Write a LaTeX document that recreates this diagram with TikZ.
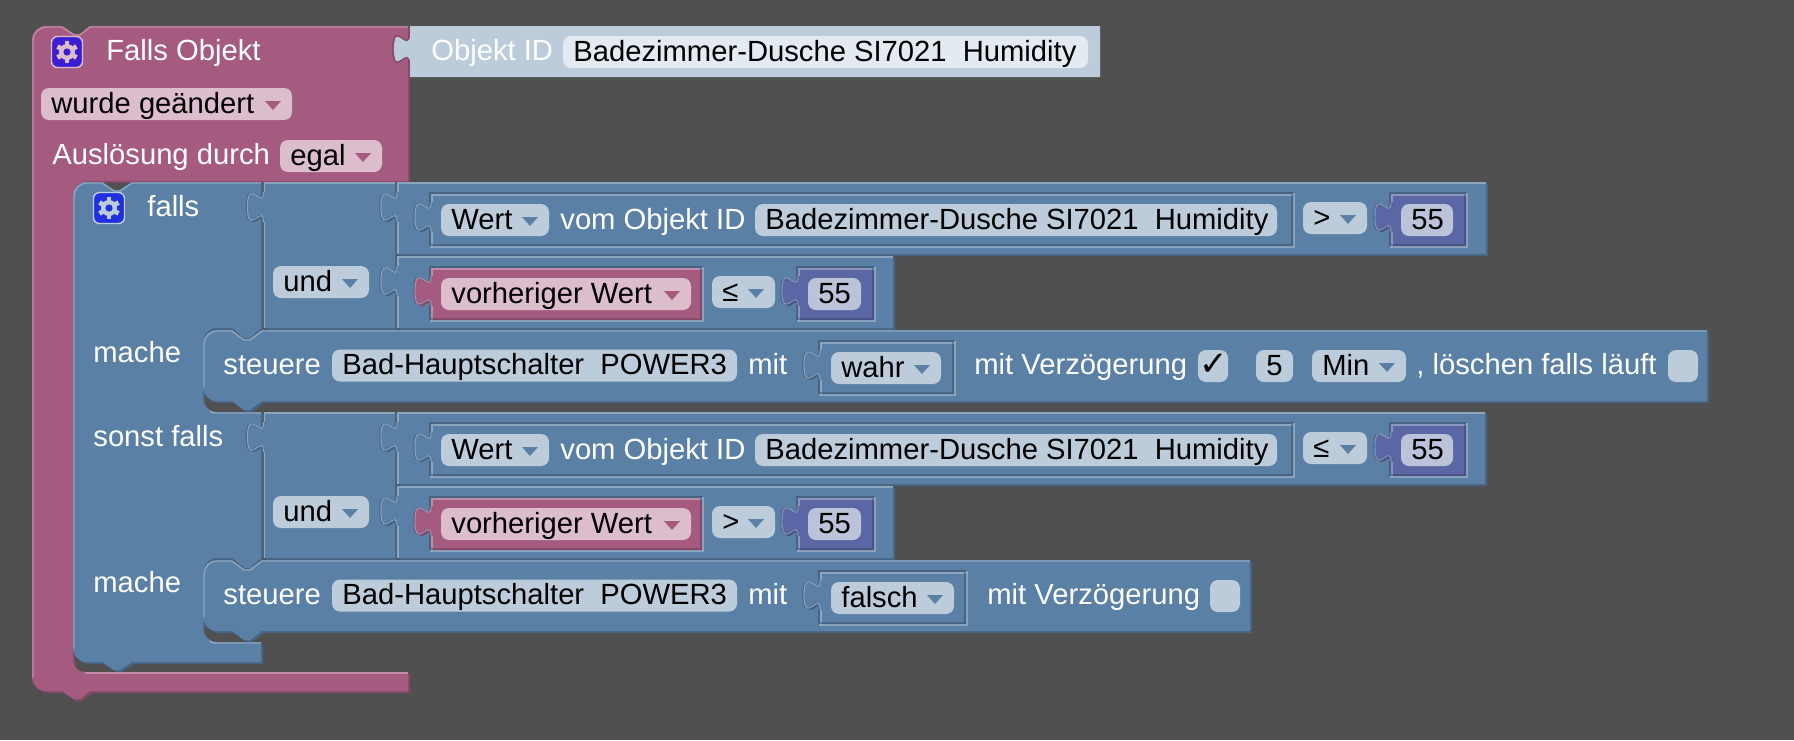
\documentclass[tikz,border=0pt]{standalone}
\usepackage{fontspec}
\setmainfont{Liberation Sans}
\newfontfamily\symfont{DejaVu Sans}

\definecolor{bgdark}{HTML}{505050}
\definecolor{blockblue}{HTML}{5B80A5}
\definecolor{darkblue}{HTML}{476583}
\definecolor{lightblue}{HTML}{8CA6C0}
\definecolor{fieldblue}{HTML}{BDCCDB}
\definecolor{blockmag}{HTML}{A55B80}
\definecolor{darkmag}{HTML}{844966}
\definecolor{lightmag}{HTML}{C08CA6}
\definecolor{fieldmag}{HTML}{DBBDCC}
\definecolor{blocknum}{HTML}{5B67A5}
\definecolor{darknum}{HTML}{495284}
\definecolor{lightnum}{HTML}{8C95C0}
\definecolor{fieldnum}{HTML}{BDC2DB}
\definecolor{fieldid}{HTML}{E4EAF1}
\definecolor{gearmag}{HTML}{3D1FD3}
\definecolor{gearblue}{HTML}{2030E0}

\tikzset{
  edge/.style={line width=0.7pt},
  tabedge/.style={line width=0.45pt},
  lbl/.style={anchor=base west,inner sep=0,text=white,font=\fontsize{14.6}{17}\selectfont},
  fieldtext/.style={anchor=base west,inner sep=0,text=black,font=\fontsize{14.6}{17}\selectfont},
}

% tab of a value block, going down the left side
\newcommand{\tabdown}[2]{.. controls (#1,#2+20) and (#1-16,#2-16) .. (#1-16,#2+15) .. controls (#1-16,#2+46) and (#1,#2+10) .. (#1,#2+30)}
\newcommand{\blk}[3]{\fill[dark#1,xshift=1pt,yshift=-1pt] #3; \fill[#2] #3;}

% field: name, x0, x1, y centre, text
\newcommand{\fld}[6][blue]{
  \fill[field#1,rounded corners=4pt] (#3,#5-16) rectangle (#4,#5+16);
  \node[fieldtext] (#2) at (#3+10,#5+9) {#6};
}
% field with dropdown arrow
\newcommand{\dfld}[6][blue]{
  \fld[#1]{#2}{#3}{#4}{#5}{#6}
  \fill[block#1] (#4-27,#5-3) -- (#4-11,#5-3) -- (#4-19,#5+6) -- cycle;
}
% horizontal row with a socket at its left side
\newcommand{\rowblk}[4]{
  \blk{blue}{blockblue}{(#1,#3) -- (#1,#3+10) \tabdown{#1}{#3+10} -- (#1,#4) -- (#2,#4) -- (#2,#3) -- cycle}
  \draw[darkblue,tabedge,xshift=-0.6pt] (#1,#3+10) \tabdown{#1}{#3+10};
  \draw[lightblue,edge] (#1+1,#4) -- (#1+1,#3+40);
  \draw[lightblue,tabedge] (#1,#3+10) \tabdown{#1}{#3+10};
  \draw[lightblue,edge] (#1+1,#3+10) -- (#1+1,#3+1) -- (#2,#3+1);
}
% value block sitting in its socket
\newcommand{\valfrm}[5][blue]{
  \draw[darkblue,edge] (#2,#5) -- (#2,#4) -- (#3,#4);
  \draw[lightblue,edge] (#2,#5) -- (#3,#5) -- (#3,#4);
  \blk{#1}{block#1}{(#2+1,#4+1) -- (#2+1,#4+9) \tabdown{#2+1}{#4+9} -- (#2+1,#5-3) -- (#3-3,#5-3) -- (#3-3,#4+1) -- cycle}
  \draw[darkblue,tabedge,xshift=-0.6pt] (#2+1,#4+9) \tabdown{#2+1}{#4+9};
  \draw[light#1,tabedge] (#2+1,#4+9) \tabdown{#2+1}{#4+9};
  \draw[light#1,edge] (#2+2,#5-3) -- (#2+2,#4+39);
  \draw[light#1,edge] (#2+2,#4+9) -- (#2+2,#4+2) -- (#3-3,#4+2);
}
% statement block: right end, top
\newcommand{\stmtpath}[2]{(203,#2+14) .. controls (203,#2+6) and (209,#2) .. (217,#2) -- (232,#2) -- (244,#2+9) -- (250,#2+9) -- (262,#2) -- (#1,#2) -- (#1,#2+71) -- (262,#2+71) -- (250,#2+80) -- (244,#2+80) -- (232,#2+71) -- (217,#2+71) .. controls (209,#2+71) and (203,#2+65) .. (203,#2+57) -- cycle}
\newcommand{\stmtblk}[2]{
  \blk{blue}{blockblue}{\stmtpath{#1}{#2}}
  \draw[lightblue,edge] (204,#2+57) -- (204,#2+14) .. controls (204,#2+7) and (210,#2+1) .. (217,#2+1) -- (232,#2+1) -- (244,#2+10) -- (250,#2+10) -- (262,#2+1) -- (#1,#2+1);
}
% gear button: name, x, y, button colour, edge colour
\newcommand{\gearicon}[5]{
  \node[draw=#5,fill=#4,line width=0.7pt,rounded corners=3pt,minimum size=15.5pt,inner sep=0] (#1) at (#2,#3) {};
  \begin{scope}[shift={(#2,#3)}]
    \foreach \a in {0,60,...,300}
      \fill[#5,rotate=\a] (-2.4,-11) rectangle (2.4,-7);
    \fill[#5] (0,0) circle (8);
    \fill[#4] (0,0) circle (3.6);
  \end{scope}
}
% the two rows of a condition with its "und" column
\newcommand{\condrows}[4]{
  \rowblk{263.5}{395}{182}{328}
  \rowblk{397}{#4}{182}{254}
  \rowblk{397}{893}{256}{328}
  \valfrm{430}{1294}{193}{247}
  \dfld{wert#1}{441}{549}{220}{Wert}
  \node[lbl] (vom#1) at (560,229) {vom Objekt ID};
  \fld{id#1}{755}{1277}{220}{Badezimmer-Dusche SI7021~~Humidity}
  \dfld{op#1}{1303}{1367}{218}{#2}
  \valfrm[num]{1390}{1467}{193}{247}
  \fld[num]{num#1}{1401}{1453}{220}{55}
  \dfld{und#1}{273}{369}{282}{und}
  \valfrm[mag]{430}{703}{267}{321}
  \dfld[mag]{vor#1}{441}{691}{294}{vorheriger Wert}
  \dfld{opb#1}{712}{775}{292}{#3}
  \valfrm[num]{797}{875}{267}{321}
  \fld[num]{numb#1}{808}{861}{294}{55}
}

\begin{document}
\begin{tikzpicture}[x=0.5pt,y=-0.5pt]

\useasboundingbox (0,0) rectangle (1794,740);
\fill[bgdark] (0,0) rectangle (1794,740);

% hat block
\blk{mag}{blockmag}{(32,40) .. controls (32,32) and (38,26) .. (46,26) -- (62,26) -- (74,34) -- (80,34) -- (90,26) -- (408,26) -- (408,181) -- (85,181) -- (73,193) -- (73,660) .. controls (73,667) and (78,672) .. (85,672) -- (408,672) -- (408,691) -- (90,691) -- (80,699) -- (74,699) -- (62,691) -- (46,691) .. controls (38,691) and (32,685) .. (32,677) -- cycle}
\draw[lightmag,edge] (33,677) -- (33,40) .. controls (33,33) and (39,27) .. (46,27) -- (62,27) -- (74,35) -- (80,35) -- (90,27) -- (408,27);
\draw[lightmag,edge] (85,673) -- (408,673);
\gearicon{gearhat}{67}{52}{gearmag}{fieldmag}
\node[lbl] (fallsobj) at (106,60) {Falls Objekt};
\dfld[mag]{geaendert}{41}{292}{104}{wurde geändert}
\node[lbl] (ausl) at (52,164) {Auslösung durch};
\dfld[mag]{egal}{280}{382}{156}{egal}

% value block at the hat
\fill[fieldblue] (410,26) -- (410,34) \tabdown{410}{34} -- (410,77) -- (1100,77) -- (1100,26) -- cycle;
\draw[darkmag,edge,xshift=-0.5pt] (410,34) \tabdown{410}{34};
\fld[id]{idhat}{563}{1088}{52}{Badezimmer-Dusche SI7021~~Humidity}
\node[lbl] (objid) at (431,60) {Objekt ID};

% if block
\blk{blue}{blockblue}{(73,196) .. controls (73,188) and (79,182) .. (87,182) -- (102,182) -- (114,190) -- (120,190) -- (132,182) -- (261,182) -- (261,328) -- (250,338) -- (244,338) -- (232,328) -- (217,328) .. controls (209,328) and (203,335) .. (203,343) -- (203,398) .. controls (203,406) and (209,412) .. (217,412) -- (261,412) -- (261,558) -- (250,568) -- (244,568) -- (232,558) -- (217,558) .. controls (209,558) and (203,565) .. (203,573) -- (203,628) .. controls (203,636) and (209,642) .. (217,642) -- (261,642) -- (261,662) -- (132,662) -- (120,670) -- (114,670) -- (102,662) -- (87,662) .. controls (79,662) and (73,656) .. (73,648) -- cycle}
\draw[lightblue,edge] (74,648) -- (74,196) .. controls (74,189) and (80,183) .. (87,183) -- (102,183) -- (114,191) -- (120,191) -- (132,183) -- (261,183);
\draw[lightblue,edge] (210,411) .. controls (212,413) and (214,413) .. (217,413) -- (261,413);
\draw[lightblue,edge] (210,641) .. controls (212,643) and (214,643) .. (217,643) -- (261,643);
\gearicon{gearif}{109}{208}{gearblue}{fieldblue}
\node[lbl] (falls) at (147,216) {falls};
\node[lbl] (mache) at (93,362) {mache};
\node[lbl] (sonst) at (93,446) {sonst falls};
\node[lbl] (macheb) at (93,592) {mache};

% conditions
\condrows{a}{>}{≤}{1486}
\begin{scope}[yshift=-115pt]
\condrows{b}{≤}{>}{1485}
\end{scope}

% first statement
\stmtblk{1707}{330}
\node[lbl] (steuere) at (223,374) {steuere};
\fld{bad}{332}{737}{365.5}{Bad-Hauptschalter~~POWER3}
\node[lbl] (mit) at (748,374) {mit};
\valfrm{819}{955}{341}{395}
\dfld{wahr}{831}{941}{368}{wahr}
\node[lbl] (verz) at (974,374) {mit Verzögerung};
\fld{chk}{1198}{1228}{366}{\hspace{-4.5pt}{\symfont\fontsize{17}{17}\selectfont ✓}}
\fld{fuenf}{1256}{1293}{366}{5}
\dfld{min}{1312}{1406}{366}{Min}
\node[lbl] (loeschen) at (1416,374) {, löschen falls läuft};
\fld{chkb}{1668}{1698}{366}{}

% second statement
\stmtblk{1250}{560}
\node[lbl] (steuereb) at (223,604) {steuere};
\fld{badb}{332}{737}{595.5}{Bad-Hauptschalter~~POWER3}
\node[lbl] (mitb) at (748,604) {mit};
\valfrm{819}{967}{571}{625}
\dfld{falsch}{831}{954}{598}{falsch}
\node[lbl] (verzb) at (987,604) {mit Verzögerung};
\fld{chkc}{1210}{1240}{596}{}

\end{tikzpicture}
\end{document}
